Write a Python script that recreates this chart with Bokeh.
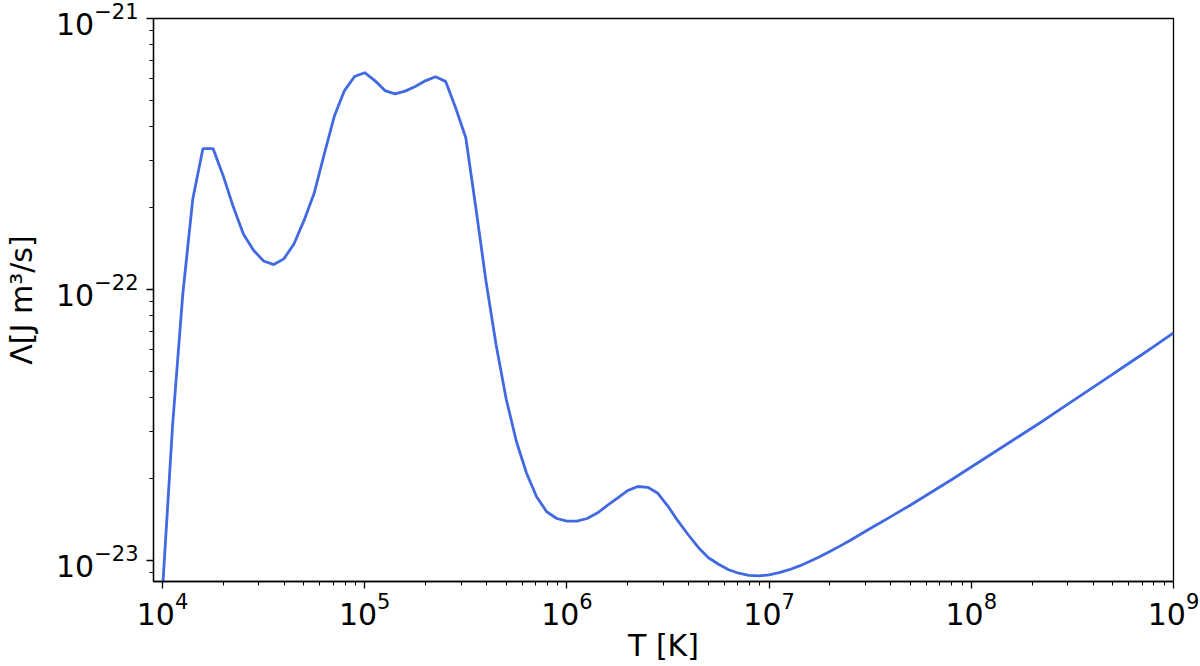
import numpy as np
from bokeh.plotting import figure
from bokeh.models import Range1d, LogTicker
from bokeh.embed import file_html
from bokeh.resources import INLINE

# log10 of temperature [K]
log_T = [4.00, 4.05, 4.10, 4.15, 4.20, 4.25, 4.30, 4.35, 4.40, 4.45,
         4.50, 4.55, 4.60, 4.65, 4.70, 4.75, 4.80, 4.85, 4.90, 4.95,
         5.00, 5.05, 5.10, 5.15, 5.20, 5.25, 5.30, 5.35, 5.40, 5.45,
         5.50, 5.55, 5.60, 5.65, 5.70, 5.75, 5.80, 5.85, 5.90, 5.95,
         6.00, 6.05, 6.10, 6.15, 6.20, 6.25, 6.30, 6.35, 6.40, 6.45,
         6.50, 6.55, 6.60, 6.65, 6.70, 6.75, 6.80, 6.85, 6.90, 6.95,
         7.00, 7.05, 7.10, 7.15, 7.20, 7.25, 7.30, 7.35, 7.40, 7.45,
         7.50, 7.55, 7.60, 7.65, 7.70, 7.75, 7.80, 7.85, 7.90, 7.95,
         8.00, 8.05, 8.10, 8.15, 8.20, 8.25, 8.30, 8.35, 8.40, 8.45,
         8.50, 8.55, 8.60, 8.65, 8.70, 8.75, 8.80, 8.85, 8.90, 8.95,
         9.00]

# log10 of cooling function Lambda [J m^3/s]
log_L = [-23.11, -22.50, -22.02, -21.665, -21.48, -21.48, -21.58, -21.695, -21.795, -21.855,
         -21.895, -21.908, -21.887, -21.832, -21.745, -21.645, -21.50, -21.36, -21.266, -21.214,
         -21.200, -21.229, -21.266, -21.278, -21.268, -21.251, -21.230, -21.215, -21.232, -21.33,
         -21.44, -21.70, -21.97, -22.205, -22.405, -22.56, -22.677, -22.765, -22.82, -22.845,
         -22.855, -22.855, -22.845, -22.825, -22.797, -22.77, -22.742, -22.727, -22.730, -22.752,
         -22.80, -22.855, -22.905, -22.952, -22.99, -23.014, -23.034, -23.047, -23.055, -23.057,
         -23.053, -23.045, -23.034, -23.020, -23.004, -22.986, -22.967, -22.947, -22.926, -22.904,
         -22.882, -22.861, -22.839, -22.817, -22.795, -22.772, -22.749, -22.726, -22.703, -22.679,
         -22.655, -22.631, -22.607, -22.583, -22.559, -22.535, -22.511, -22.487, -22.462, -22.437,
         -22.412, -22.387, -22.362, -22.337, -22.312, -22.287, -22.262, -22.237, -22.212, -22.186,
         -22.160]

T = 10.0 ** np.array(log_T)
L = 10.0 ** np.array(log_L)

p = figure(
    x_axis_type="log", y_axis_type="log",
    frame_width=1020, frame_height=563,
    min_border_left=153, min_border_right=27,
    min_border_top=18, min_border_bottom=85,
    x_range=Range1d(10 ** 3.9555, 1e9),
    y_range=Range1d(10 ** -23.0775, 1e-21),
    output_backend="svg", toolbar_location=None,
)

p.line(T, L, line_color="#4169E1", line_width=2.8)

p.grid.visible = False
p.outline_line_color = "black"
p.outline_line_width = 1.3
p.outline_line_alpha = 1.0

for ax in (p.xaxis[0], p.yaxis[0]):
    ax.ticker = LogTicker(num_minor_ticks=10)
    ax.axis_line_color = "black"
    ax.axis_line_width = 1.3
    ax.major_tick_line_color = "black"
    ax.major_tick_line_width = 1.3
    ax.minor_tick_line_color = "black"
    ax.minor_tick_line_width = 1.0
    ax.major_tick_out = 7
    ax.major_tick_in = 0
    ax.minor_tick_out = 4
    ax.minor_tick_in = 0
    ax.major_label_text_font = "DejaVu Sans"
    ax.major_label_text_font_size = "30px"
    ax.major_label_text_color = "black"
    ax.axis_label_text_font = "DejaVu Sans"
    ax.axis_label_text_font_size = "30px"
    ax.axis_label_text_font_style = "normal"
    ax.axis_label_text_color = "black"

p.xaxis.axis_label = "T [K]"
p.yaxis.axis_label = "Λ[J m³/s]"
p.xaxis.major_label_standoff = 3
p.yaxis.major_label_standoff = 8
p.xaxis.axis_label_standoff = 0
p.yaxis.axis_label_standoff = 14

open("out.html", "w").write(file_html(p, INLINE))
